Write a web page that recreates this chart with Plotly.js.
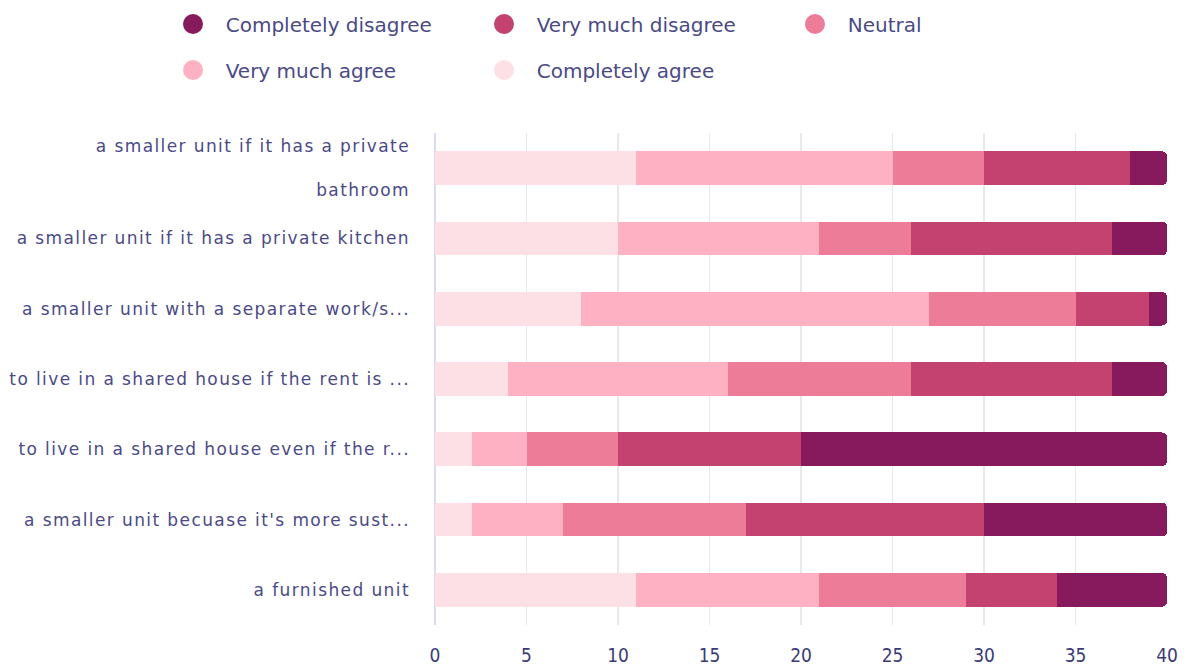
<!DOCTYPE html>
<html>
<head>
<meta charset="utf-8">
<script src="https://cdn.plot.ly/plotly-3.0.1.min.js"></script>
<style>
html,body{margin:0;padding:0;background:#fff}
#chart{width:1185px;height:667px}
#chart .ytick text{letter-spacing:1.4px}
</style>
</head>
<body>
<div id="chart"></div>
<script>
const categories = [
  "a smaller unit if it has a private<br><br>bathroom",
  "a smaller unit if it has a private kitchen",
  "a smaller unit with a separate work/s...",
  "to live in a shared house if the rent is ...",
  "to live in a shared house even if the r...",
  "a smaller unit becuase it's more sust...",
  "a furnished unit"
];
const completelyAgree    = [11, 10, 8, 4, 2, 2, 11];
const veryMuchAgree      = [14, 11, 19, 12, 3, 5, 10];
const neutral            = [5, 5, 8, 10, 5, 10, 8];
const veryMuchDisagree   = [8, 11, 4, 11, 10, 13, 5];
const completelyDisagree = [2, 3, 1, 3, 20, 10, 6];

const seriesNames  = ["Completely agree", "Very much agree", "Neutral", "Very much disagree", "Completely disagree"];
const seriesValues = [completelyAgree, veryMuchAgree, neutral, veryMuchDisagree, completelyDisagree];
const seriesColors = ["#fde0e6", "#feb1c2", "#ec7c98", "#c3426f", "#861a5c"];
const legendIds    = ["legend5", "legend4", "legend3", "legend2", "legend"];

const traces = [];
seriesNames.forEach((name, i) => {
  traces.push({
    type: "bar", orientation: "h", name: name,
    y: categories, x: seriesValues[i],
    marker: {color: seriesColors[i], line: {width: 0}},
    showlegend: false, hoverinfo: "x+name"
  });
});
// legend entries (circle symbols), one legend box per entry
seriesNames.forEach((name, i) => {
  traces.push({
    type: "scatter", mode: "markers", name: "\u00a0\u00a0" + name,
    x: [null], y: [null],
    marker: {color: seriesColors[i], size: 16, symbol: "circle", line: {color: seriesColors[i], width: 4}},
    legend: legendIds[i], showlegend: true
  });
});

const textColor = "#4b4a86";
const legendFont = {family: "DejaVu Sans, sans-serif", size: 20, color: textColor};
function legendAt(px, py) {
  return {
    orientation: "h", xref: "container", yref: "container",
    xanchor: "left", yanchor: "middle",
    x: px / 1185, y: 1 - py / 667,
    font: legendFont, itemsizing: "trace", bgcolor: "rgba(0,0,0,0)"
  };
}

const layout = {
  width: 1185, height: 667,
  margin: {l: 435, r: 18, t: 133, b: 42},
  paper_bgcolor: "#fff", plot_bgcolor: "#fff",
  barmode: "stack", bargap: 0.52, barcornerradius: 5,
  font: {family: "DejaVu Sans, sans-serif", color: textColor},
  xaxis: {
    range: [0, 40], dtick: 5, tick0: 0,
    showgrid: true, gridcolor: "#e9e9ec", gridwidth: 1.5,
    zeroline: true, zerolinecolor: "#d8dbf1", zerolinewidth: 2,
    showline: false, ticks: "",
    ticklabelstandoff: 17,
    tickfont: {family: "Liberation Sans Narrow, DejaVu Sans Condensed, sans-serif", size: 19, color: "#3c3b78"},
    fixedrange: true
  },
  yaxis: {
    type: "category", autorange: "reversed",
    showgrid: false, zeroline: false, showline: false, ticks: "",
    ticklabelstandoff: 24,
    tickfont: {family: "DejaVu Sans, sans-serif", size: 17, color: textColor},
    fixedrange: true
  },
  legend:  legendAt(173, 24),
  legend2: legendAt(484, 24),
  legend3: legendAt(795, 24),
  legend4: legendAt(173, 70),
  legend5: legendAt(484, 70),
  showlegend: true
};

Plotly.newPlot("chart", traces, layout, {displayModeBar: false, staticPlot: true});
</script>
</body>
</html>
